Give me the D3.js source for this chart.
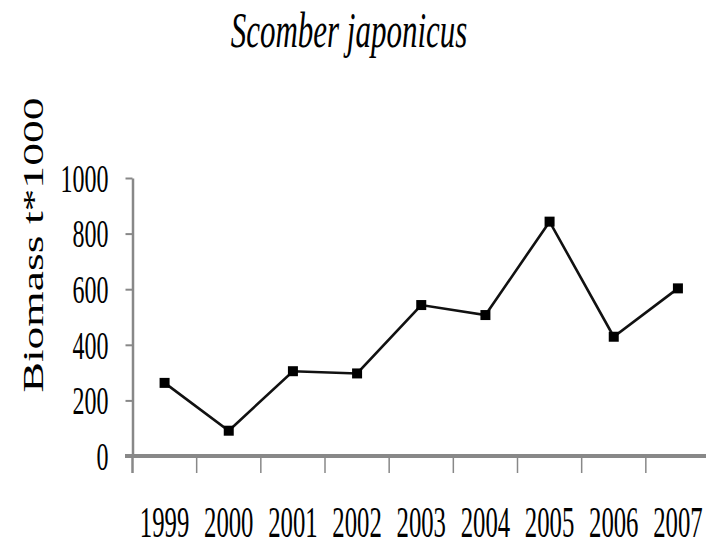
<!DOCTYPE html>
<html>
<head>
<meta charset="utf-8">
<script src="https://cdn.jsdelivr.net/npm/d3@7"></script>
<style>
  body { margin: 0; background: #fff; }
  text { font-family: "Liberation Serif", "Times New Roman", "DejaVu Serif", serif; fill: #000; }
</style>
</head>
<body>
<div id="chart"></div>
<script>
// data
var years = ["1999", "2000", "2001", "2002", "2003", "2004", "2005", "2006", "2007"];
var biomass = [263, 91, 305, 297, 543, 507, 843, 429, 603];
var yTicks = [0, 200, 400, 600, 800, 1000];

var width = 706, height = 547;

var svg = d3.select("#chart")
  .append("svg")
    .attr("width", width)
    .attr("height", height);

// scales
var x = d3.scaleBand()
  .domain(years)
  .range([132.5, 710])
  .padding(0);

var y = d3.scaleLinear()
  .domain([0, 1000])
  .range([456, 178]);

// y axis
var yAxis = svg.append("g")
  .attr("transform", "translate(132.5,0)")
  .call(d3.axisLeft(y)
    .tickValues(yTicks)
    .tickFormat(d3.format("d"))
    .tickSize(7)
    .tickSizeOuter(0)
    .tickPadding(17));

yAxis.select(".domain").attr("stroke", "#888").attr("stroke-width", 2.5);
yAxis.selectAll(".tick line").attr("stroke", "#888").attr("stroke-width", 2);
yAxis.selectAll(".tick text")
  .style("font-family", "Liberation Serif")
  .style("font-size", "39px")
  .attr("fill", "#111")
  .attr("dy", "0.34em")
  .attr("textLength", function(d) { return String(d).length * 12; })
  .attr("lengthAdjust", "spacingAndGlyphs");

// x axis: baseline, ticks at category boundaries, labels at centres
svg.append("line")
  .attr("x1", 125).attr("x2", 710)
  .attr("y1", y(0)).attr("y2", y(0))
  .attr("stroke", "#888").attr("stroke-width", 4);

svg.append("g").selectAll("line")
  .data(years)
  .enter().append("line")
    .attr("x1", function(d) { return x(d); })
    .attr("x2", function(d) { return x(d); })
    .attr("y1", y(0))
    .attr("y2", y(0) + 17)
    .attr("stroke", "#888")
    .attr("stroke-width", function(d, i) { return i === 0 ? 2.5 : 1.5; });

// year labels, squeezed like the original
svg.append("g").selectAll("text")
  .data(years)
  .enter().append("text")
    .attr("transform", function(d) {
      return "translate(" + (x(d) + x.bandwidth() / 2) + ",537) scale(0.55,1)";
    })
    .attr("text-anchor", "middle")
    .style("font-size", "45px")
    .attr("fill", "#111")
    .text(function(d) { return d; });

// the series
var line = d3.line()
  .x(function(d, i) { return x(years[i]) + x.bandwidth() / 2; })
  .y(function(d) { return y(d); });

svg.append("path")
  .datum(biomass)
  .attr("fill", "none")
  .attr("stroke", "#111")
  .attr("stroke-width", 2.6)
  .attr("d", line);

svg.append("g").selectAll("rect")
  .data(biomass)
  .enter().append("rect")
    .attr("x", function(d, i) { return x(years[i]) + x.bandwidth() / 2 - 5; })
    .attr("y", function(d) { return y(d) - 5; })
    .attr("width", 10)
    .attr("height", 10)
    .attr("fill", "#000");

// title
svg.append("text")
  .attr("transform", "translate(349,47) scale(0.62,1)")
  .attr("text-anchor", "middle")
  .style("font-size", "50px")
  .style("font-style", "italic")
  .text("Scomber japonicus");

// y axis title
svg.append("text")
  .attr("transform", "translate(43,245) rotate(-90) scale(1.52,1)")
  .attr("text-anchor", "middle")
  .style("font-size", "30px")
  .text("Biomass t*1000");
</script>
</body>
</html>
